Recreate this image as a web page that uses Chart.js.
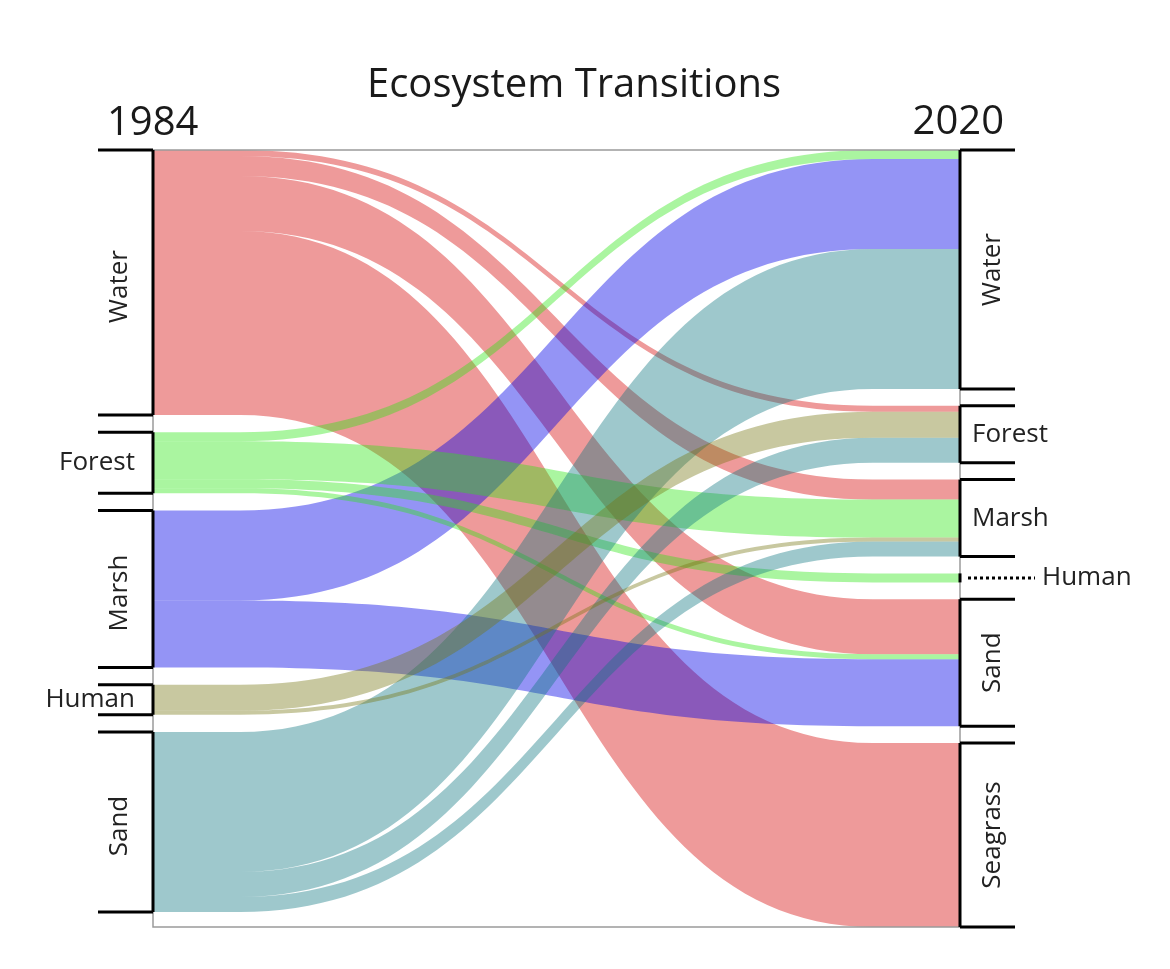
<!DOCTYPE html>
<html>
<head>
<meta charset="utf-8">
<script src="https://cdn.jsdelivr.net/npm/chart.js@4.4.1/dist/chart.umd.min.js"></script>
<style>
    body { margin: 0; background: #ffffff; }
    canvas { display: block; }
</style>
</head>
<body>
<canvas id="sankeyChart" width="1170" height="969"></canvas>
<script>
// Nós de cada ano (de cima para baixo)
const leftNodes = ['Water', 'Forest', 'Marsh', 'Human', 'Sand'];
const rightNodes = ['Water', 'Forest', 'Marsh', 'Human', 'Sand', 'Seagrass'];
const yearLabels = ['1984', '2020'];
const chartTitle = 'Ecosystem Transitions';

// Transições 1984 -> 2020
const flowFrom  = ['Water', 'Water', 'Water', 'Water', 'Forest', 'Forest', 'Forest', 'Forest', 'Marsh', 'Marsh', 'Human', 'Human', 'Sand', 'Sand', 'Sand'];
const flowTo    = ['Forest', 'Marsh', 'Sand', 'Seagrass', 'Water', 'Marsh', 'Human', 'Sand', 'Water', 'Sand', 'Forest', 'Marsh', 'Water', 'Forest', 'Marsh'];
const flowValue = [6, 20, 55, 184, 9, 38, 9, 5, 90, 67, 26, 4, 140, 25, 15];

// Estilo
const nodeColors = {
    Water: 'rgba(212, 2, 2, 0.40)',
    Forest: 'rgba(43, 230, 17, 0.40)',
    Marsh: 'rgba(0, 0, 230, 0.42)',
    Human: 'rgba(118, 118, 18, 0.40)',
    Sand: 'rgba(13, 117, 127, 0.40)'
};
const drawOrder = ['Water', 'Marsh', 'Forest', 'Sand', 'Human'];
const gapLeft = 17.25;
const gapRight = 16.8;
const flat = 0.108;
const fontFamily = '"Open Sans", "DejaVu Sans", sans-serif';

const total = flowValue.reduce((a, b) => a + b, 0);
const yMax = total + gapRight * (rightNodes.length - 1);

function nodeLayout(nodes, key, gap) {
    const out = {};
    let y = 0;
    nodes.forEach(name => {
        const size = flowValue.reduce((s, v, i) => s + ((key === 'from' ? flowFrom[i] : flowTo[i]) === name ? v : 0), 0);
        out[name] = { top: y, bottom: y + size };
        y += size + gap;
    });
    return out;
}

const sankeyPlugin = {
    id: 'sankeyFlows',
    beforeDatasetsDraw(chart) {
        const ctx = chart.ctx;
        const xs = chart.scales.x;
        const ys = chart.scales.y;
        const area = chart.chartArea;

        const leftPos = nodeLayout(leftNodes, 'from', gapLeft);
        const rightPos = nodeLayout(rightNodes, 'to', gapRight);

        // posição de cada fluxo dentro dos nós
        const idx = flowValue.map((v, i) => i);
        const srcOff = {}, dstOff = {};
        const bands = [];
        idx.slice().sort((a, b) => leftNodes.indexOf(flowFrom[a]) - leftNodes.indexOf(flowFrom[b]) ||
            rightNodes.indexOf(flowTo[a]) - rightNodes.indexOf(flowTo[b])).forEach(i => {
            const s = flowFrom[i];
            const o = srcOff[s] || leftPos[s].top;
            bands[i] = { y0: o, y0b: o + flowValue[i] };
            srcOff[s] = o + flowValue[i];
        });
        idx.slice().sort((a, b) => rightNodes.indexOf(flowTo[a]) - rightNodes.indexOf(flowTo[b]) ||
            leftNodes.indexOf(flowFrom[a]) - leftNodes.indexOf(flowFrom[b])).forEach(i => {
            const t = flowTo[i];
            const o = dstOff[t] || rightPos[t].top;
            bands[i].y1 = o;
            bands[i].y1b = o + flowValue[i];
            dstOff[t] = o + flowValue[i];
        });

        const xL = xs.getPixelForValue(0);
        const xA = xs.getPixelForValue(flat);
        const xB = xs.getPixelForValue(1 - flat);
        const xR = xs.getPixelForValue(1);
        const xM = (xA + xB) / 2;

        ctx.save();
        drawOrder.forEach(src => {
            idx.filter(i => flowFrom[i] === src).forEach(i => {
                const b = bands[i];
                const a0 = ys.getPixelForValue(b.y0), a1 = ys.getPixelForValue(b.y0b);
                const c0 = ys.getPixelForValue(b.y1), c1 = ys.getPixelForValue(b.y1b);
                ctx.beginPath();
                ctx.moveTo(xL, a0);
                ctx.lineTo(xA, a0);
                ctx.bezierCurveTo(xM, a0, xM, c0, xB, c0);
                ctx.lineTo(xR, c0);
                ctx.lineTo(xR, c1);
                ctx.lineTo(xB, c1);
                ctx.bezierCurveTo(xM, c1, xM, a1, xA, a1);
                ctx.lineTo(xL, a1);
                ctx.closePath();
                ctx.fillStyle = nodeColors[src];
                ctx.fill();
            });
        });

        // moldura cinza
        ctx.strokeStyle = '#9a9a9a';
        ctx.lineWidth = 1.5;
        ctx.strokeRect(area.left, area.top, area.right - area.left, area.bottom - area.top);

        // barras e rótulos dos nós
        ctx.strokeStyle = '#000';
        const drawSide = (nodes, pos, isLeft) => {
            const x = isLeft ? area.left : area.right;
            nodes.forEach(name => {
                const t = ys.getPixelForValue(pos[name].top);
                const bt = ys.getPixelForValue(pos[name].bottom);
                const h = bt - t;
                ctx.lineWidth = 3;
                ctx.beginPath();
                ctx.moveTo(x, t);
                ctx.lineTo(x, bt);
                ctx.stroke();
                if (h > 20) {
                    const tx = isLeft ? x - 55 : x + 55;
                    ctx.beginPath();
                    ctx.moveTo(tx, t); ctx.lineTo(x, t);
                    ctx.moveTo(tx, bt); ctx.lineTo(x, bt);
                    ctx.stroke();
                }
                const cy = (t + bt) / 2;
                ctx.font = '26px ' + fontFamily;
                ctx.fillStyle = '#222';
                if (h > 100) {
                    ctx.save();
                    ctx.translate(isLeft ? x - 33 : x + 33, cy + (isLeft ? 4 : 0));
                    ctx.rotate(-Math.PI / 2);
                    ctx.textAlign = 'center';
                    ctx.textBaseline = 'middle';
                    ctx.fillText(name, 0, 0);
                    ctx.restore();
                } else if (h > 20) {
                    ctx.textAlign = isLeft ? 'right' : 'left';
                    ctx.textBaseline = 'middle';
                    ctx.fillText(name, isLeft ? x - 18 : x + 12, cy);
                } else {
                    ctx.lineWidth = 3;
                    ctx.setLineDash([3, 3]);
                    ctx.beginPath();
                    ctx.moveTo(isLeft ? x - 8 : x + 8, cy);
                    ctx.lineTo(isLeft ? x - 75 : x + 75, cy);
                    ctx.stroke();
                    ctx.setLineDash([]);
                    ctx.textAlign = isLeft ? 'right' : 'left';
                    ctx.textBaseline = 'middle';
                    ctx.fillText(name, isLeft ? x - 82 : x + 82, cy);
                }
            });
        };
        drawSide(leftNodes, leftPos, true);
        drawSide(rightNodes, rightPos, false);

        // título e anos
        ctx.fillStyle = '#1a1a1a';
        ctx.textBaseline = 'alphabetic';
        ctx.font = '40px ' + fontFamily;
        ctx.textAlign = 'center';
        ctx.fillText(chartTitle, 574, 97);
        ctx.font = '40px ' + fontFamily;
        ctx.textAlign = 'left';
        ctx.fillText(yearLabels[0], area.left - 46, 135);
        ctx.textAlign = 'right';
        ctx.fillText(yearLabels[1], area.right + 44, 134);
        ctx.restore();
    }
};

const ctx = document.getElementById('sankeyChart').getContext('2d');
new Chart(ctx, {
    type: 'scatter',
    data: { datasets: [] },
    options: {
        responsive: false,
        animation: false,
        layout: { padding: { left: 153, right: 210, top: 150, bottom: 42 } },
        scales: {
            x: { type: 'linear', min: 0, max: 1, display: false },
            y: { type: 'linear', min: 0, max: yMax, reverse: true, display: false }
        },
        plugins: {
            legend: { display: false },
            tooltip: { enabled: false }
        }
    },
    plugins: [sankeyPlugin]
});
</script>
</body>
</html>
